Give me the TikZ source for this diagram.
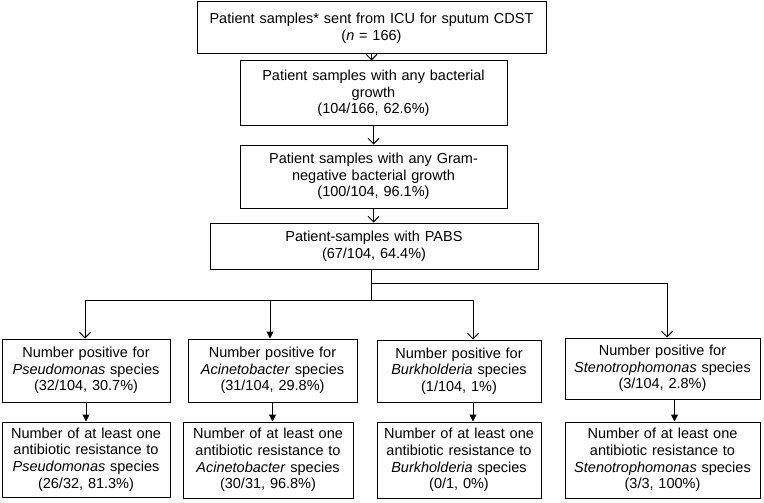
\documentclass[tikz,border=0pt]{standalone}
\usepackage{fontspec}
\setmainfont{Liberation Sans}
\usetikzlibrary{arrows.meta}

\begin{document}
\begin{tikzpicture}[x=1pt,y=-1pt,
  box/.style={draw, line width=1pt, align=center, inner sep=2pt,
    font=\fontsize{14.5}{16.7}\selectfont},
  link/.style={line width=1pt},
  openarr/.style={link, -{Straight Barb[length=5.5pt,width=11pt]}},
  fillarr/.style={link, -{Triangle[length=7pt,width=7pt]}}]
\useasboundingbox (0,0) rectangle (764,503);

% top chain
\node[box, text width=345, minimum height=52] (icu) at (371.5,28)
  {Patient samples* sent from ICU for sputum CDST\\(\textit{n} = 166)};
\node[box, text width=263, minimum height=65] (bact) at (373.5,93.5)
  {Patient samples with any bacterial\\growth\\(104/166, 62.6\%)};
\node[box, text width=263, minimum height=63] (gram) at (373.5,176.5)
  {Patient samples with any Gram-\\negative bacterial growth\\(100/104, 96.1\%)};
\node[box, text width=324, minimum height=46] (pabs) at (374,246)
  {Patient-samples with PABS\\(67/104, 64.4\%)};

% species found
\node[box, text width=164, minimum height=63] (pseu) at (86,370.5)
  {Number positive for\\\textit{Pseudomonas} species\\(32/104, 30.7\%)};
\node[box, text width=165, minimum height=63] (acin) at (272.5,370.5)
  {Number positive for\\\textit{Acinetobacter} species\\(31/104, 29.8\%)};
\node[box, text width=160, minimum height=62] (burk) at (459,371)
  {Number positive for\\\textit{Burkholderia} species\\(1/104, 1\%)};
\node[box, text width=191, minimum height=61] (sten) at (662.5,368.5)
  {Number positive for\\\textit{Stenotrophomonas} species\\(3/104, 2.8\%)};

% resistance
\node[box, text width=164, minimum height=75] (pseures) at (86,459.5)
  {Number of at least one\\antibiotic resistance to\\\textit{Pseudomonas} species\\(26/32, 81.3\%)};
\node[box, text width=166, minimum height=76] (acinres) at (268,460)
  {Number of at least one\\antibiotic resistance to\\\textit{Acinetobacter} species\\(30/31, 96.8\%)};
\node[box, text width=160, minimum height=76] (burkres) at (459,460)
  {Number of at least one\\antibiotic resistance to\\\textit{Burkholderia} species\\(0/1, 0\%)};
\node[box, text width=191, minimum height=76] (stenres) at (662.5,460)
  {Number of at least one\\antibiotic resistance to\\\textit{Stenotrophomonas} species\\(3/3, 100\%)};

% vertical chain
\draw[openarr] (icu.south) -- (icu.south |- bact.north);
\draw[openarr] (bact.south) -- (bact.south |- gram.north);
\draw[openarr] (gram.south) -- (gram.south |- pabs.north);

% fork
\coordinate (fork) at (371,300);
\coordinate (forkhi) at (371,283);
\coordinate (tpseu) at (85,300);
\coordinate (tacin) at (270,300);
\coordinate (tburk) at (473,300);
\coordinate (tsten) at (667,283);
\draw[link] (fork |- pabs.south) -- (fork);
\draw[link] (tpseu) -- (tburk);
\draw[link] (forkhi) -- (tsten);
\draw[openarr] (tpseu) -- (tpseu |- pseu.north);
\draw[fillarr] (tacin) -- (tacin |- acin.north);
\draw[openarr] (tburk) -- (tburk |- burk.north);
\draw[openarr] (tsten) -- (tsten |- sten.north);

% down to resistance
\draw[fillarr] (pseu.south) -- (pseu.south |- pseures.north);
\draw[fillarr] (acin.south) -- (acin.south |- acinres.north);
\draw[fillarr] ([xshift=14]burk.south) -- ([xshift=14]burk.south |- burkres.north);
\draw[fillarr] ([xshift=12]sten.south) -- ([xshift=12]sten.south |- stenres.north);

\end{tikzpicture}
\end{document}
